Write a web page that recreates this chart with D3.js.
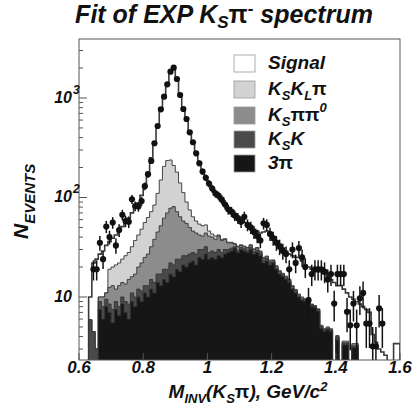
<!DOCTYPE html>
<html>
<head>
<meta charset="utf-8">
<script src="https://cdn.jsdelivr.net/npm/d3@7"></script>
<style>
  body { margin: 0; background: #fff; }
  svg { display: block; }
  text { font-family: "Liberation Sans", Arial, sans-serif; font-weight: bold; font-style: italic; fill: #111; }
</style>
</head>
<body>
<div id="chart"></div>
<script>
// bins of 10 MeV from 0.60 to 1.60 GeV
const binW = 0.01;
const binLo = d3.range(100).map(i => 0.6 + i * binW);

// experimental points (null = empty bin)
const dataPts = [
  null, null, null, null, 19, 19, 35, 24, 51, 40,
  56, 33, 47, 67, 58, 57, 96, 82, 81, 92,
  130, 171, 233, 351, 523, 770, 1031, 1373, 1837, 2018,
  1552, 1072, 775, 615, 452, 359, 278, 221, 182, 158,
  138, 123, 110, 104, 95, 85, 76, 72, 66, 62,
  57, 64, 53, 50, 45, 41, 37, 55, 53, 43,
  39, 35, 32, 29, 27, 19, 30, 22, 31, 25,
  20, 9.3, 17, 19, 19, 19, 18, 15, 17, 8.6,
  17, 17, 17, 7.1, 5.2, 8.6, 5.2, 9.7, 11, 5.4,
  5.4, 3.2, 3.2, 7.7, 5.4, null, null, null, null, null
];

// stacked fit, cumulative top of each layer
const topSignal = [
  0, 0, 0, 10, 22, 24, 27, 29, 33, 36,
  39, 42, 46, 51, 56, 62, 70, 78, 88, 105,
  135, 180, 250, 360, 530, 760, 1030, 1380, 1800, 2000,
  1580, 1100, 800, 600, 460, 360, 285, 228, 188, 160,
  140, 124, 112, 102, 93, 86, 79, 73, 68, 63,
  59, 56, 53, 50, 48, 46, 44, 45, 46, 43,
  40, 37, 34, 31, 29, 27, 26, 25, 25, 23,
  21, 20, 19, 19, 18, 18, 17, 16, 15, 14,
  13, 13, 12, 11, 10, 9.5, 9, 8.5, 8, 7.5,
  7, 4.2, 3.5, 3, 2.8, 2.6, 0, 0, 3.4, 3.4
];
const topKsKLPi = [
  0, 0, 0, 5.9, 4.5, 3, 10, 10, 11, 19,
  20, 21, 22, 24, 26, 28, 32, 37, 42, 48,
  56, 63, 72, 84, 110, 150, 205, 235, 238, 210,
  180, 140, 112, 90, 75, 64, 58, 54, 52, 53,
  46, 43, 41, 42, 38, 38.5, 35.5, 35.5, 34.5, 32.5,
  33.5, 32.5, 31.5, 33.5, 30.5, 31.5, 29, 25, 25.8, 23.5,
  23.6, 20.6, 18.4, 17.3, 16.2, 15.1, 13, 11.9, 10.7, 10,
  9.6, 9.8, 8.5, 8.2, 7.6, 5.2, 4.8, 5, 4.8, 0,
  4.1, 0, 3.6, 3.6, 0, 3.4, 3.4, 0, 0, 0,
  0, 0, 0, 0, 0, 0, 0, 0, 0, 0
];
const topKsPiPi0 = [
  0, 0, 0, 5.9, 4.5, 3, 10, 10, 11, 12.5,
  13, 12, 13, 14, 13.5, 15, 16, 17, 20, 22,
  25, 27, 32, 38, 45, 52, 62, 70, 78, 81,
  72, 64, 58, 55, 50, 46, 44, 42, 41, 44,
  41, 40, 38, 41, 37, 38, 35, 35, 34, 32,
  33, 32, 31, 33, 30, 31, 28.5, 24.5, 25.3, 23,
  23.2, 20.2, 18, 17, 15.9, 14.8, 12.8, 11.7, 10.5, 9.8,
  9.4, 9.7, 8.4, 8.1, 7.5, 5.1, 4.7, 4.9, 4.7, 0,
  4, 0, 3.5, 3.5, 0, 3.3, 3.3, 0, 0, 0,
  0, 0, 0, 0, 0, 0, 0, 0, 0, 0
];
const topKsK = [
  0, 0, 0, 5.9, 4.5, 3, 9, 8, 9.5, 8.5,
  7.5, 9, 8, 10, 9, 8.5, 11, 10, 12, 11.5,
  13, 13, 15, 14, 17, 17, 19, 19, 22, 21,
  24, 24, 26, 26, 27, 28, 27, 30, 30, 32,
  28, 29, 28, 30, 28, 30, 30, 31, 32, 29.5,
  31.5, 30.5, 29.5, 31.5, 28.5, 29.5, 27.5, 23.5, 24.3, 22.3,
  22.5, 19.5, 17.4, 16.4, 15.4, 14.3, 12.3, 11.3, 10.2, 9.5,
  9.2, 9.5, 8.2, 8, 7.4, 5, 4.6, 4.8, 4.6, 0,
  3.9, 0, 3.4, 3.4, 0, 3.2, 3.2, 0, 0, 0,
  0, 0, 0, 0, 0, 0, 0, 0, 0, 0
];
const top3pi = [
  0, 0, 0, 0, 0, 0, 7.5, 6, 8, 7,
  5.5, 7.5, 6.5, 8.5, 7, 6, 9, 8, 10, 9,
  11, 10, 12, 11, 14, 13, 15, 14, 17, 16,
  19, 18, 21, 20, 22, 23, 21, 25, 24, 27,
  24, 25, 24, 26, 25, 27, 28, 29, 31, 28,
  30, 29, 28, 30, 27, 28, 26, 22, 23, 21,
  22, 19, 17, 16, 15, 14, 12, 11, 10, 9.3,
  9, 9.3, 8, 7.8, 7.2, 4.8, 4.5, 4.7, 4.5, 0,
  3.7, 0, 3.3, 3.3, 0, 3.1, 3.1, 0, 0, 0,
  0, 0, 0, 0, 0, 0, 0, 0, 0, 0
];

const layerNames = ["Signal", "KsKLpi", "KsPiPi0", "KsK", "3pi"];
const layerColors = ["#ffffff", "#d2d2d2", "#8c8c8c", "#4a4a4a", "#161616"];
const layerTops = [topSignal, topKsKLPi, topKsPiPi0, topKsK, top3pi];

const xTicks = [0.6, 0.8, 1.0, 1.2, 1.4, 1.6];
const xTickLabels = ["0.6", "0.8", "1", "1.2", "1.4", "1.6"];
const yTicks = [10, 100, 1000];
const yTickExp = ["", "2", "3"];

const W = 418, H = 413;
const L = 79, R = 400, T = 39, B = 360;

const svg = d3.select("#chart").append("svg")
  .attr("width", W)
  .attr("height", H);

const x = d3.scaleLinear().domain([0.6, 1.6]).range([L, R]);
const y = d3.scaleLog().domain([2.327, 3917]).range([B, T]).clamp(true);

svg.append("defs").append("clipPath").attr("id", "plotclip")
  .append("rect").attr("x", L).attr("y", T).attr("width", R - L).attr("height", B - T);

const plot = svg.append("g").attr("clip-path", "url(#plotclip)");

// step histogram area for one cumulative layer
const area = d3.area()
  .x(d => d[0])
  .y0(B + 2)
  .y1(d => d[1]);

function stepPoints(vals) {
  const pts = [];
  vals.forEach((v, i) => {
    const yy = v > 0 ? y(v) : B + 2;
    pts.push([x(binLo[i]), yy], [x(binLo[i] + binW), yy]);
  });
  return pts;
}

layerTops.forEach((vals, k) => {
  plot.append("path")
    .attr("class", "layer " + layerNames[k])
    .attr("d", area(stepPoints(vals)))
    .attr("fill", layerColors[k])
    .attr("stroke", k === 0 ? "#3a3a3a" : "#333")
    .attr("stroke-width", k === 0 ? 1.6 : 0.9)
    .attr("stroke-linejoin", "miter");
});

// data with sqrt(N) error bars
const pts = dataPts.map((v, i) => ({ m: binLo[i] + binW / 2, v: v })).filter(d => d.v != null);

plot.selectAll(".err").data(pts).enter()
  .append("line")
  .attr("class", "err")
  .attr("x1", d => x(d.m))
  .attr("x2", d => x(d.m))
  .attr("y1", d => y(Math.max(d.v - Math.sqrt(d.v), 0.5)))
  .attr("y2", d => y(d.v + Math.sqrt(d.v)))
  .attr("stroke", "#111")
  .attr("stroke-width", 1.5);

plot.selectAll(".dot").data(pts).enter()
  .append("circle")
  .attr("class", "dot")
  .attr("cx", d => x(d.m))
  .attr("cy", d => y(d.v))
  .attr("r", 3.1)
  .attr("fill", "#111");

// frame
svg.append("rect")
  .attr("x", L).attr("y", T)
  .attr("width", R - L).attr("height", B - T)
  .attr("fill", "none")
  .attr("stroke", "#555")
  .attr("stroke-width", 1);

// y ticks (inside)
const yMinor = [];
[1, 10, 100, 1000].forEach(dec => {
  for (let k = 2; k <= 9; k++) {
    const v = dec * k;
    if (v > 2.327 && v < 3917) yMinor.push(v);
  }
});
svg.selectAll(".ymin").data(yMinor).enter()
  .append("line")
  .attr("x1", L).attr("x2", L + 4)
  .attr("y1", d => y(d)).attr("y2", d => y(d))
  .attr("stroke", "#555");
svg.selectAll(".ymaj").data(yTicks).enter()
  .append("line")
  .attr("x1", L).attr("x2", L + 8)
  .attr("y1", d => y(d)).attr("y2", d => y(d))
  .attr("stroke", "#555");

svg.selectAll(".ylab").data(yTicks).enter()
  .append("text")
  .attr("x", 72)
  .attr("y", d => y(d) + 5)
  .attr("text-anchor", "end")
  .attr("font-size", 16)
  .text("10");
svg.selectAll(".ysup").data(yTicks).enter()
  .append("text")
  .attr("x", 73)
  .attr("y", d => y(d) - 4)
  .attr("font-size", 12)
  .text((d, i) => yTickExp[i]);

// x ticks (inside)
svg.selectAll(".xmaj").data(xTicks).enter()
  .append("line")
  .attr("x1", d => x(d)).attr("x2", d => x(d))
  .attr("y1", B).attr("y2", B - 7)
  .attr("stroke", "#555");
svg.selectAll(".xlab").data(xTicks).enter()
  .append("text")
  .attr("x", d => x(d))
  .attr("y", 373)
  .attr("text-anchor", "middle")
  .attr("font-size", 17)
  .text((d, i) => xTickLabels[i]);

// title
const title = svg.append("text")
  .attr("x", 224).attr("y", 23)
  .attr("text-anchor", "middle")
  .attr("font-size", 25);
title.append("tspan").text("Fit of EXP K");
title.append("tspan").attr("font-size", 17).attr("dy", 5).text("S");
title.append("tspan").attr("dy", -5).attr("font-style", "normal").text("π");
title.append("tspan").attr("font-size", 17).attr("dy", -9).text("-");
title.append("tspan").attr("dy", 9).text(" spectrum");

// axis titles
const xt = svg.append("text")
  .attr("x", 248).attr("y", 398)
  .attr("text-anchor", "middle")
  .attr("font-size", 19);
xt.append("tspan").text("M");
xt.append("tspan").attr("font-size", 13).attr("dy", 5).text("INV");
xt.append("tspan").attr("dy", -5).text("(K");
xt.append("tspan").attr("font-size", 13).attr("dy", 5).text("S");
xt.append("tspan").attr("dy", -5).attr("font-style", "normal").text("π");
xt.append("tspan").text("), GeV/c");
xt.append("tspan").attr("font-size", 13).attr("dy", -7).text("2");

const yt = svg.append("text")
  .attr("transform", "translate(28,239) rotate(-90)")
  .attr("font-size", 21);
yt.append("tspan").text("N");
yt.append("tspan").attr("font-size", 15).attr("dy", 7).text("EVENTS");

// legend
const legY = [55, 81, 107, 131, 155];
const leg = svg.append("g").attr("class", "legend");
layerColors.forEach((c, k) => {
  leg.append("rect")
    .attr("x", 234).attr("y", legY[k])
    .attr("width", 21).attr("height", 17)
    .attr("fill", c)
    .attr("stroke", "#999")
    .attr("stroke-width", 0.8);
});
function legText(k) {
  return leg.append("text").attr("x", 268).attr("y", legY[k] + 14).attr("font-size", 19);
}
legText(0).text("Signal");
let t1 = legText(1);
t1.append("tspan").text("K");
t1.append("tspan").attr("font-size", 13).attr("dy", 5).text("S");
t1.append("tspan").attr("dy", -5).text("K");
t1.append("tspan").attr("font-size", 13).attr("dy", 5).text("L");
t1.append("tspan").attr("dy", -5).attr("font-style", "normal").text("π");
let t2 = legText(2);
t2.append("tspan").text("K");
t2.append("tspan").attr("font-size", 13).attr("dy", 5).text("S");
t2.append("tspan").attr("dy", -5).attr("font-style", "normal").text("ππ");
t2.append("tspan").attr("font-size", 13).attr("dy", -9).text("0");
let t3 = legText(3);
t3.append("tspan").text("K");
t3.append("tspan").attr("font-size", 13).attr("dy", 5).text("S");
t3.append("tspan").attr("dy", -5).text("K");
let t4 = legText(4);
t4.append("tspan").text("3");
t4.append("tspan").attr("font-style", "normal").text("π");
</script>
</body>
</html>
